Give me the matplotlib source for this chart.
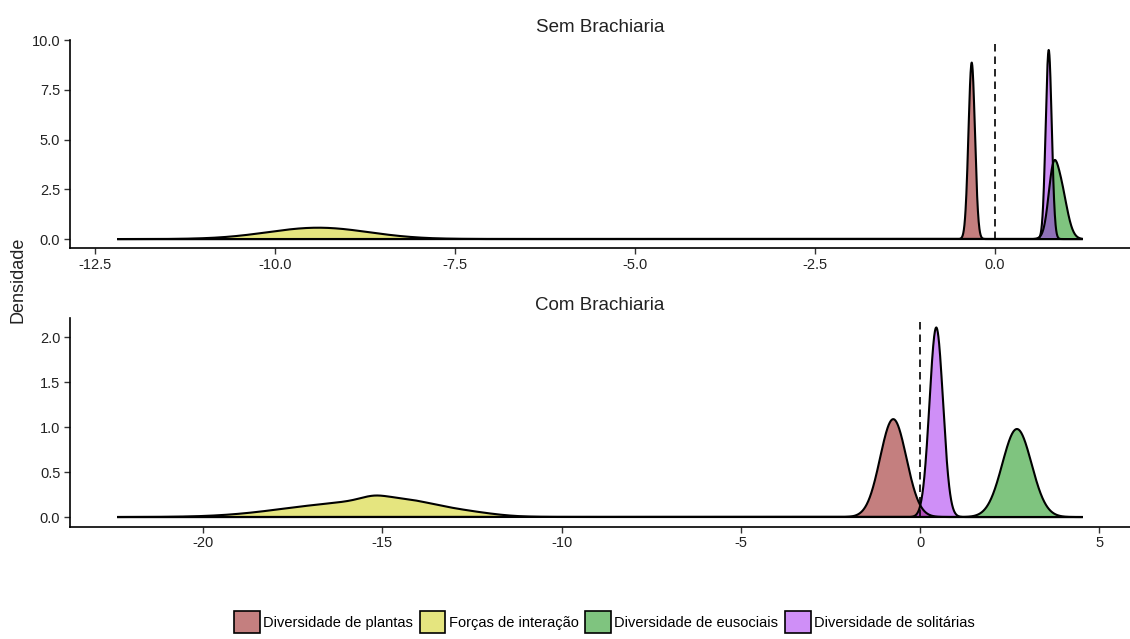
import numpy as np
import matplotlib
matplotlib.use("Agg")
import matplotlib.pyplot as plt
from matplotlib.patches import Patch

plt.rcParams['font.family'] = ['Liberation Sans', 'DejaVu Sans']

# ---- data ----
groups = ["Diversidade de plantas", "Forças de interação",
          "Diversidade de eusociais", "Diversidade de solitárias"]
fill_colors = ["#8B0000", "#CDCD00", "#008B00", "#A020F0"]
fill_alpha = 0.5

panel_titles = ["Sem Brachiaria", "Com Brachiaria"]

# Each group's density as Gaussian components: (mean, sd, weight)
sem_components = [
    [(-0.32, 0.045, 1.0)],
    [(-9.40, 0.70, 1.0)],
    [(0.80, 0.06, 0.25), (0.89, 0.10, 0.75)],
    [(0.75, 0.042, 1.0)],
]
com_components = [
    [(-0.75, 0.366, 1.0)],
    [(-16.2, 1.7, 0.60), (-14.4, 1.0, 0.30), (-15.25, 0.35, 0.03), (-12.6, 0.8, 0.07)],
    [(2.70, 0.407, 1.0)],
    [(0.45, 0.189, 1.0)],
]
sem_range = (-12.18, 1.21)
com_range = (-22.37, 4.51)

sem_xticks = [-12.5, -10.0, -7.5, -5.0, -2.5, 0.0]
sem_yticks = [0.0, 2.5, 5.0, 7.5, 10.0]
com_xticks = [-20, -15, -10, -5, 0, 5]
com_yticks = [0.0, 0.5, 1.0, 1.5, 2.0]


def density(x, comps):
    y = np.zeros_like(x)
    for m, s, w in comps:
        y += w * np.exp(-0.5 * ((x - m) / s) ** 2) / (s * np.sqrt(2 * np.pi))
    return y


fig = plt.figure(figsize=(11.3, 6.39), dpi=100)
W, H = 1130, 639
ax1 = fig.add_axes([70 / W, 1 - 248.5 / H, 1060 / W, 208.5 / H])
ax2 = fig.add_axes([70 / W, 1 - 526.5 / H, 1060 / W, 208.5 / H])

panels = [
    (ax1, sem_components, sem_range, sem_xticks, sem_yticks, "{:.1f}", "{:.1f}"),
    (ax2, com_components, com_range, com_xticks, com_yticks, "{:g}", "{:.1f}"),
]

for i, (ax, comps, rng, xt, yt, xfmt, yfmt) in enumerate(panels):
    x = np.linspace(rng[0], rng[1], 5000)
    ymax = 0
    for g, c, col in zip(groups, comps, fill_colors):
        y = density(x, c)
        ymax = max(ymax, y.max())
        ax.fill_between(x, 0, y, facecolor=col, edgecolor='none', alpha=fill_alpha, zorder=2)
        ax.plot(x, y, color='black', lw=1.5, zorder=3, solid_joinstyle='round')
    span = rng[1] - rng[0]
    ax.set_xlim(rng[0] - 0.05 * span, rng[1] + 0.05 * span)
    ax.set_ylim(-0.05 * ymax, ymax * 1.05)
    ax.plot([0, 0], [0, ymax * 1.04], ls=(0, (4.5, 3)), color='black', lw=1.2, zorder=4)
    ax.set_xticks(xt)
    ax.set_xticklabels([xfmt.format(v) for v in xt])
    ax.set_yticks(yt)
    ax.set_yticklabels([yfmt.format(v) for v in yt])
    for s in ['top', 'right']:
        ax.spines[s].set_visible(False)
    for s in ['left', 'bottom']:
        ax.spines[s].set_linewidth(1.2)
        ax.spines[s].set_color('black')
    ax.tick_params(axis='both', length=4, width=1, color='#333333',
                   labelsize=10.5, labelcolor='#222222', pad=3)
    ax.set_title(panel_titles[i], fontsize=13.5, color='#222222', pad=6)

fig.text(18 / W, 1 - 280 / H, "Densidade", rotation=90, fontsize=13,
         ha='center', va='center', color='#222222')

handles = []
for c in fill_colors:
    h = Patch(edgecolor='black', lw=1.2)
    rgb = matplotlib.colors.to_rgb(c)
    h.set_facecolor((rgb[0], rgb[1], rgb[2], fill_alpha))
    handles.append(h)
fig.legend(handles, groups, loc='center', bbox_to_anchor=(0.535, 1 - 622 / H),
           ncol=4, frameon=False, fontsize=10.5, handlelength=1.75, handleheight=2.0,
           handletextpad=0.25, columnspacing=0.45)

fig.savefig("out.png", dpi=100)
